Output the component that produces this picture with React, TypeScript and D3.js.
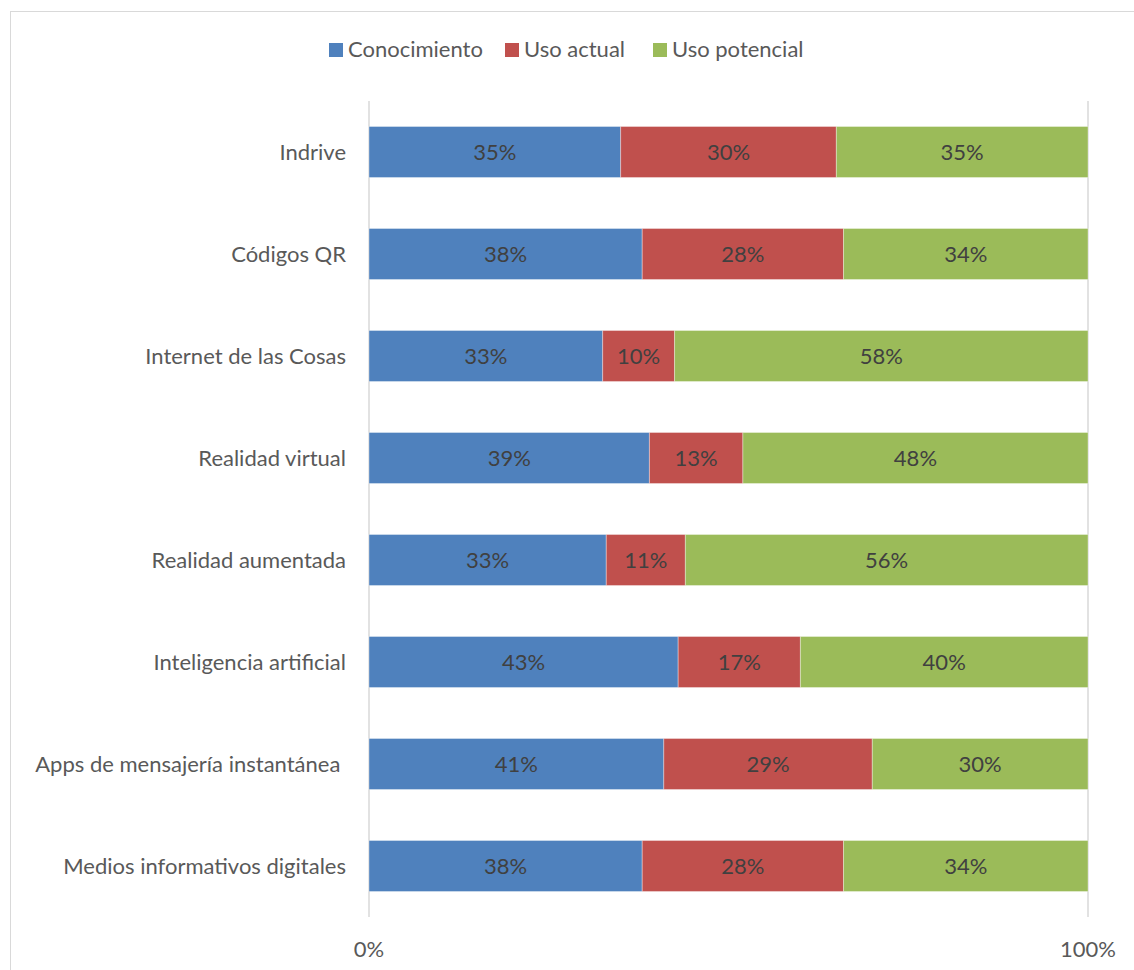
import React, { useEffect, useRef } from "react";
import * as d3 from "d3";

const categories = [
  "Indrive",
  "Códigos QR",
  "Internet de las Cosas",
  "Realidad virtual",
  "Realidad aumentada",
  "Inteligencia artificial",
  "Apps de mensajería instantánea ",
  "Medios informativos digitales",
];
const seriesNames = ["Conocimiento", "Uso actual", "Uso potencial"];
const seriesColors = ["#4f81bd", "#c0504d", "#9bbb59"];
const conocimiento = [35, 38, 32.5, 39, 33, 43, 41, 38];
const usoActual = [30, 28, 10, 13, 11, 17, 29, 28];
const usoPotencial = [35, 34, 57.5, 48, 56, 40, 30, 34];
const tickValues = [0, 1];

const W = 1134;
const H = 970;
const FONT = "Lato, 'Open Sans', sans-serif";
const FS = 22;

export default function App() {
  const ref = useRef<SVGSVGElement>(null);
  useEffect(() => {
    const svg = d3.select(ref.current);
    svg.selectAll("*").remove();

    svg.append("rect").attr("x", 10.5).attr("y", 11.5).attr("width", W + 20).attr("height", H + 20)
      .attr("fill", "#fff").attr("stroke", "#d9d9d9").attr("stroke-width", 1);

    const left = 369, right = 1088, top = 101, bottom = 917;
    const x = d3.scaleLinear().domain([0, 1]).range([left, right]);
    const y = d3.scaleBand<string>().domain(categories).range([top, bottom]).paddingInner(0.5).paddingOuter(0.25);

    const rows = categories.map((c, i) => ({ c, "0": conocimiento[i], "1": usoActual[i], "2": usoPotencial[i] }));
    const totals = rows.map((r) => r["0"] + r["1"] + r["2"]);

    // gridlines
    svg.append("g").selectAll("line").data(tickValues).join("line")
      .attr("x1", (d) => x(d)).attr("x2", (d) => x(d))
      .attr("y1", top).attr("y2", bottom)
      .attr("stroke", "#d9d9d9").attr("stroke-width", 1.5);

    const stack = d3.stack<any>().keys(["0", "1", "2"]).offset(d3.stackOffsetExpand);
    const series = stack(rows);

    series.forEach((s, si) => {
      const g = svg.append("g");
      g.selectAll("rect").data(s).join("rect")
        .attr("x", (d) => x(d[0]))
        .attr("y", (d) => y((d.data as any).c)!)
        .attr("width", (d) => x(d[1]) - x(d[0]))
        .attr("height", y.bandwidth())
        .attr("fill", seriesColors[si])
        .attr("stroke", "#ffffff").attr("stroke-opacity", 0.35).attr("stroke-width", 1);
      g.selectAll("text").data(s).join("text")
        .attr("x", (d) => (x(d[0]) + x(d[1])) / 2)
        .attr("y", (d) => y((d.data as any).c)! + y.bandwidth() / 2)
        .attr("dy", "0.35em")
        .attr("text-anchor", "middle")
        .attr("font-family", FONT).attr("font-size", FS).attr("fill", "#404040")
        .text((d, i) => Math.round(((d.data as any)[String(si)] * 100) / totals[i]) + "%");
    });

    // category labels
    svg.append("g").selectAll("text").data(categories).join("text")
      .attr("x", 346).attr("y", (d) => y(d)! + y.bandwidth() / 2).attr("dy", "0.35em")
      .attr("text-anchor", "end").attr("xml:space", "preserve")
      .attr("font-family", FONT).attr("font-size", FS).attr("fill", "#595959")
      .text((d) => d);

    // axis tick labels
    svg.append("g").selectAll("text").data(tickValues).join("text")
      .attr("x", (d) => x(d)).attr("y", 957)
      .attr("text-anchor", "middle")
      .attr("font-family", FONT).attr("font-size", FS).attr("fill", "#595959")
      .text((d) => d3.format(".0%")(d));

    // legend
    const legendX = [329, 505, 653];
    const lg = svg.append("g");
    seriesNames.forEach((n, i) => {
      lg.append("rect").attr("x", legendX[i]).attr("y", 43).attr("width", 14).attr("height", 14).attr("fill", seriesColors[i]);
      lg.append("text").attr("x", legendX[i] + 19).attr("y", 57)
        .attr("font-family", FONT).attr("font-size", FS).attr("fill", "#595959").text(n);
    });
  }, []);
  return <svg ref={ref} width={W} height={H} style={{ display: "block", position: "absolute", left: 0, top: 0 }} />;
}
